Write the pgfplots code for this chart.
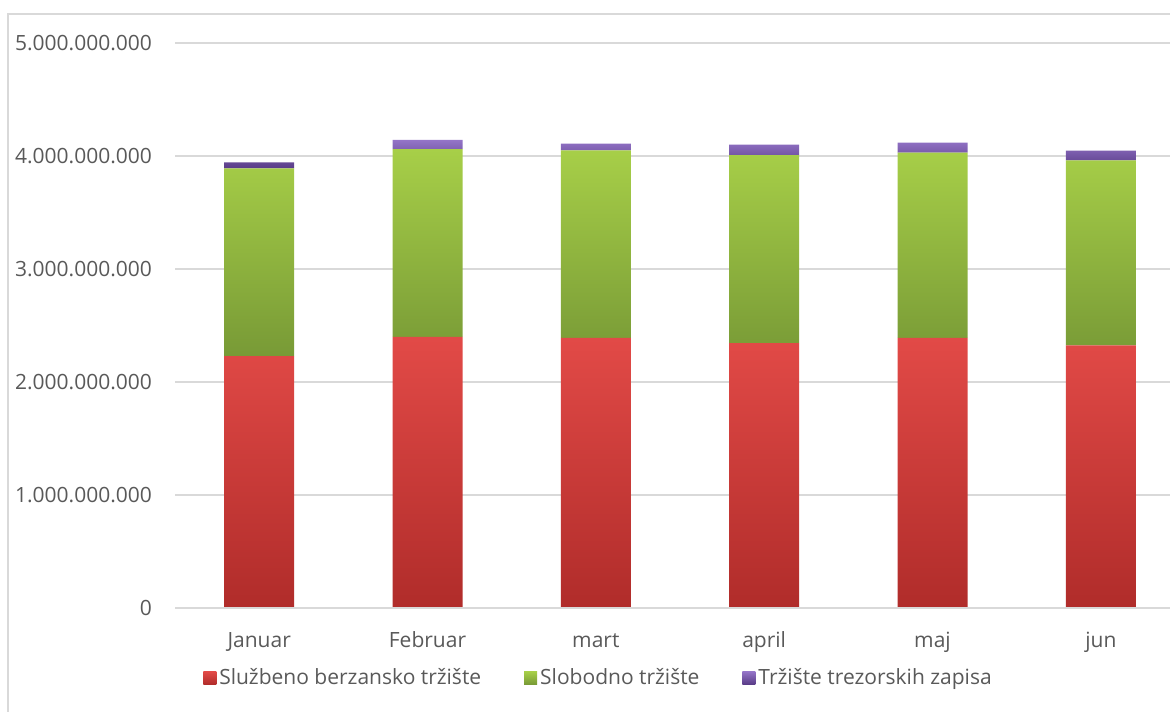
\documentclass[border=0pt]{standalone}
\usepackage{fontspec}
\setmainfont{Open Sans}
\usepackage{pgfplots}
\pgfplotsset{compat=1.18}
\definecolor{tickc}{HTML}{595959}
\definecolor{gridc}{HTML}{D9D9D9}
\definecolor{redT}{HTML}{E24A47}
\definecolor{redB}{HTML}{B02C2A}
\definecolor{grnT}{HTML}{A7CF48}
\definecolor{grnB}{HTML}{789A36}
\definecolor{purT}{HTML}{9474C8}
\definecolor{purB}{HTML}{583B86}
\begin{document}
\begin{tikzpicture}
\useasboundingbox (0,0) rectangle (585pt,-355.5pt);
\clip (0,0) rectangle (585pt,-355.5pt);
\draw[gridc, line width=0.6pt] (4pt,-7pt) rectangle (640pt,-400pt);
\begin{axis}[
  at={(87.5pt,-304pt)}, anchor=south west,
  scale only axis, width=505pt, height=282.5pt,
  ybar stacked, bar width=35pt,
  xmin=-0.5, xmax=5.5, ymin=0, ymax=5000000000,
  xtick={0,1,2,3,4,5},
  xticklabels={Januar,Februar,mart,april,maj,jun},
  ytick={0,1000000000,2000000000,3000000000,4000000000,5000000000},
  scaled y ticks=false,
  yticklabel style={/pgf/number format/fixed, /pgf/number format/precision=0,
    /pgf/number format/1000 sep={.}, /pgf/number format/assume math mode=true,
    anchor=east, xshift=-8pt},
  xticklabel style={anchor=base, yshift=-19.5pt},
  tick label style={font=\fontsize{10.5}{12}\selectfont, text=tickc},
  major tick length=0pt,
  tick style={draw=none},
  axis line style={draw=none},
  ymajorgrids, grid style={gridc, line width=0.6pt},
  legend columns=3,
  legend style={at={(0.4198,-0.1239)}, anchor=center, draw=none, fill=none,
    font=\fontsize{10.5}{12}\selectfont, text=tickc,
    nodes={inner xsep=1.5pt},
    /tikz/every even column/.append style={column sep=20pt}},
  legend image code/.code={\path[#1] (0pt,-3.25pt) rectangle (6.5pt,3.25pt);},
]
\draw[gridc, line width=1pt] (axis cs:-0.5,0) -- (axis cs:5.5,0);
\addplot[draw=none, top color=redT, bottom color=redB] coordinates {
 (0,2230000000) (1,2400000000) (2,2390000000) (3,2345000000) (4,2390000000) (5,2325000000)};
\addplot[draw=none, top color=grnT, bottom color=grnB] coordinates {
 (0,1660000000) (1,1660000000) (2,1660000000) (3,1663000000) (4,1640000000) (5,1637000000)};
\addplot[draw=none, top color=purT, bottom color=purB] coordinates {
 (0,53000000) (1,83000000) (2,60000000) (3,92000000) (4,89000000) (5,86000000)};
\legend{Službeno berzansko tržište, Slobodno tržište, Tržište trezorskih zapisa}
\end{axis}
\end{tikzpicture}
\end{document}
